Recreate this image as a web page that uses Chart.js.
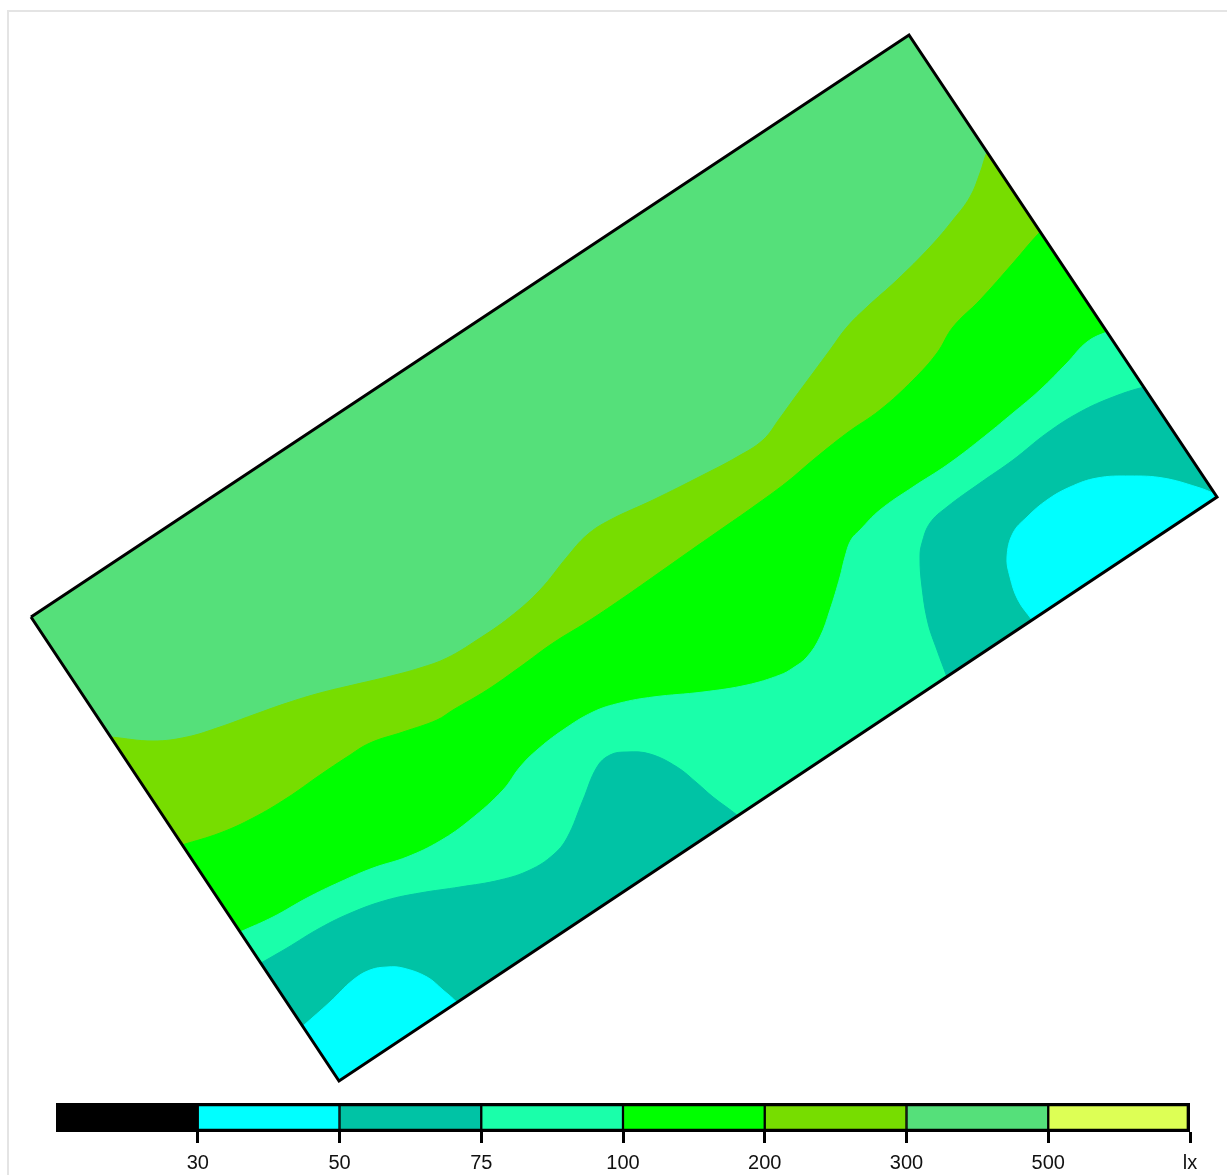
<!DOCTYPE html>
<html><head><meta charset="utf-8">
<script src="https://cdn.jsdelivr.net/npm/chart.js@4.4.1/dist/chart.umd.min.js"></script>
<style>
html,body{margin:0;padding:0;background:#fff;overflow:hidden;}
#wrap{position:relative;width:1227px;height:1175px;overflow:hidden;}
#frame{position:absolute;left:7px;top:10px;width:1260px;height:1220px;border:2px solid #e4e4e4;box-sizing:border-box;}
#map{position:absolute;left:0;top:0;}
#bar{position:absolute;left:0;top:1095px;}
</style></head><body>
<div id="wrap"><div id="frame"></div>
<canvas id="map" width="1227" height="1175"></canvas>
<canvas id="bar" width="1227" height="80"></canvas></div>
<script>
// Room outline (plan coordinates, m): left, top, right, bottom corners
const room = [[0,4.64],[8.78,10.46],[11.86,5.84],[3.08,0]];
// Iso-lux lines (plan coordinates, m)
const iso300 = [[0.80,3.44],[1.22,3.40],[1.56,3.44],[1.89,3.54],[2.22,3.66],[2.56,3.78],[2.89,3.88],[3.22,3.96],[3.56,4.04],[3.89,4.13],[4.16,4.23],[4.46,4.41],[4.79,4.64],[5.09,4.91],[5.36,5.24],[5.56,5.46],[5.79,5.61],[6.22,5.81],[6.72,6.06],[7.06,6.24],[7.32,6.41],[7.49,6.63],[7.62,6.81],[7.82,7.08],[7.99,7.31],[8.16,7.54],[8.36,7.74],[8.66,8.01],[8.99,8.34],[9.22,8.61],[9.39,8.84],[9.49,9.08],[9.56,9.29]];
const iso200 = [[1.51,2.36],[1.89,2.48],[2.22,2.63],[2.56,2.83],[2.89,3.06],[3.16,3.24],[3.39,3.38],[3.72,3.49],[4.06,3.61],[4.22,3.71],[4.56,3.91],[4.89,4.14],[5.22,4.38],[5.56,4.59],[5.89,4.81],[6.22,5.04],[6.56,5.28],[6.89,5.51],[7.22,5.74],[7.56,5.99],[7.82,6.21],[8.16,6.48],[8.49,6.71],[8.82,7.01],[9.06,7.28],[9.22,7.54],[9.49,7.81],[9.82,8.18],[10.09,8.49]];
const iso100 = [[2.09,1.49],[2.42,1.64],[2.76,1.83],[3.09,1.99],[3.42,2.13],[3.76,2.24],[4.09,2.40],[4.39,2.61],[4.72,2.91],[4.89,3.14],[5.06,3.31],[5.32,3.51],[5.62,3.69],[5.89,3.78],[6.22,3.84],[6.72,3.89],[7.16,3.96],[7.49,4.06],[7.62,4.13],[7.76,4.24],[7.89,4.44],[7.99,4.71],[8.09,5.04],[8.14,5.24],[8.20,5.41],[8.29,5.51],[8.49,5.71],[8.82,5.94],[9.16,6.16],[9.49,6.41],[9.82,6.68],[10.09,6.91],[10.36,7.18],[10.56,7.39],[10.76,7.49]];
const iso75a = [[2.30,1.18],[2.56,1.33],[2.89,1.53],[3.22,1.69],[3.56,1.81],[3.89,1.88],[4.29,1.94],[4.69,2.01],[4.99,2.11],[5.22,2.26],[5.36,2.43],[5.52,2.81],[5.66,3.14],[5.79,3.26],[5.96,3.29],[6.19,3.27],[6.46,3.14],[6.66,2.98],[6.82,2.84],[7.07,2.65]];
const iso75b = [[9.16,4.04],[9.06,4.31],[8.97,4.58],[8.91,4.94],[8.89,5.24],[8.91,5.38],[8.99,5.58],[9.16,5.74],[9.49,5.98],[9.82,6.21],[10.16,6.48],[10.49,6.69],[10.82,6.84],[11.13,6.94]];
const iso50a = [[2.72,0.55],[2.99,0.79],[3.22,1.01],[3.39,1.11],[3.56,1.14],[3.72,1.13],[3.96,1.04],[4.12,0.91],[4.26,0.785]];
const iso50b = [[10.01,4.61],[9.87,4.81],[9.79,5.04],[9.76,5.24],[9.82,5.48],[9.96,5.64],[10.16,5.81],[10.39,5.94],[10.66,6.03],[10.99,6.05],[11.32,6.03],[11.66,5.94],[11.84,5.87]];
// Legend
const levels = ['30','50','75','100','200','300','500','lx'];
const bandColors = ['#000000','#00FFFF','#00C3A5','#1AFFAA','#00FF00','#77DD00','#55E07A','#DDFF55'];

const R = room[2], B = room[3];
const toPts = arr => arr.map(([x,y]) => ({x, y}));
// point a little way from p towards q (keeps the smoothed fill on the straight room walls)
function towards(p, q, d) {
  const dx = q[0] - p[0], dy = q[1] - p[1], len = Math.hypot(dx, dy) || 1;
  return [p[0] + dx / len * d, p[1] + dy / len * d];
}
function poly(line, corners) {
  const out = line.slice(0, -1);
  const ring = [line[line.length - 1], ...corners, line[0]];
  ring.forEach((p, i) => {
    if (i > 0) out.push(towards(p, ring[i - 1], 0.02));
    out.push(p);
    if (i < ring.length - 1) out.push(towards(p, ring[i + 1], 0.02));
  });
  return toPts(out);
}
function region(pts, color, order, tension) {
  return {data: pts, fill: 'shape', backgroundColor: color, borderColor: color,
          borderWidth: 1, pointRadius: 0, tension, order};
}

new Chart(document.getElementById('map'), {
  type: 'line',
  data: {datasets: [
    {data: toPts(room.concat([room[0]])), fill: false, borderColor: '#000', borderWidth: 3,
     borderJoinStyle: 'miter', pointRadius: 0, tension: 0, order: 0},
    region(poly(iso50b, [R]), bandColors[1], 1, 0.4),
    region(poly(iso50a, [B]), bandColors[1], 1, 0.4),
    region(poly(iso75b, [R]), bandColors[2], 2, 0.4),
    region(poly(iso75a, [B]), bandColors[2], 2, 0.4),
    region(poly(iso100, [R, B]), bandColors[3], 3, 0.4),
    region(poly(iso200, [R, B]), bandColors[4], 4, 0.4),
    region(poly(iso300, [R, B]), bandColors[5], 5, 0.4),
    region(toPts(room.concat([room[0]])), bandColors[6], 6, 0)
  ]},
  options: {
    responsive: false, animation: false, events: [],
    layout: {padding: 0},
    plugins: {legend: {display: false}, tooltip: {enabled: false}},
    scales: {
      x: {type: 'linear', min: -0.31, max: 11.96, display: false},
      y: {type: 'linear', min: -0.94, max: 10.81, display: false}
    }
  }
});

const tickPos = levels.map((_, i) => i + 1);
new Chart(document.getElementById('bar'), {
  type: 'bar',
  data: {labels: ['lx'], datasets: bandColors.map((c, i) => ({
      data: [[i, i + 1]], backgroundColor: c, borderColor: '#000', borderWidth: 1.5,
      borderSkipped: false, barPercentage: 1, categoryPercentage: 1, grouped: false, order: 1
    })).concat([{
      data: [[0, levels.length]], backgroundColor: 'rgba(0,0,0,0)', borderColor: '#000', borderWidth: 3,
      borderSkipped: false, barPercentage: 1, categoryPercentage: 1, grouped: false, order: 0
    }])},
  options: {
    indexAxis: 'y', responsive: false, animation: false, events: [],
    layout: {padding: {left: 56, right: 37, top: 8, bottom: 0}},
    plugins: {legend: {display: false}, tooltip: {enabled: false}},
    scales: {
      y: {display: false},
      x: {type: 'linear', min: 0, max: levels.length,
          afterBuildTicks: s => { s.ticks = tickPos.map(v => ({value: v})); },
          afterFit: s => { s.height = 43; },
          grid: {drawOnChartArea: false, drawTicks: true, tickLength: 11, tickWidth: 3, tickColor: '#000'},
          border: {display: false},
          ticks: {padding: 8, color: '#111', autoSkip: false, maxRotation: 0,
                  font: {family: "'Liberation Sans', Arial, sans-serif", size: 20},
                  callback: v => levels[v - 1]}}
    }
  }
});
</script>
</body></html>
